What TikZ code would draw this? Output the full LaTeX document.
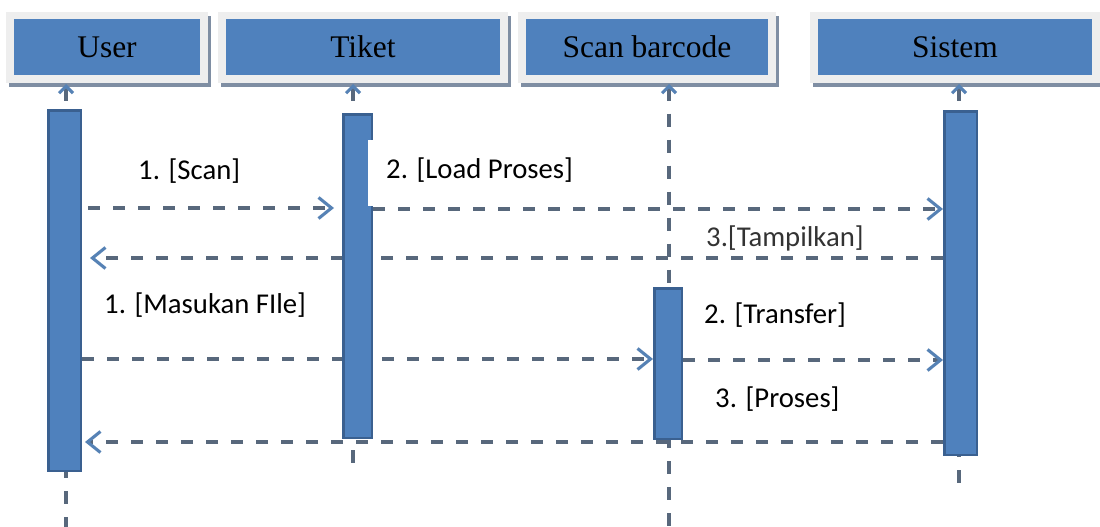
\documentclass[tikz,border=0pt]{standalone}
\usepackage{fontspec}
\setmainfont{Liberation Serif}
\newfontfamily\labelfont{Carlito}
\usetikzlibrary{arrows.meta}

\definecolor{boxblue}{HTML}{4F81BD}
\definecolor{barline}{HTML}{3A6090}
\definecolor{framegray}{HTML}{EEEEEE}
\definecolor{shadowgray}{HTML}{7F8EA3}
\definecolor{dashgray}{HTML}{58687C}
\definecolor{tipblue}{HTML}{5682B5}
\definecolor{tampgray}{HTML}{333333}

\pgfdeclarelayer{bg}
\pgfdeclarelayer{lines}
\pgfsetlayers{bg,lines,main}

\begin{document}
\begin{tikzpicture}[x=1pt,y=-1pt,
  headbox/.style={fill=boxblue, minimum height=56pt, inner sep=0pt,
    font=\fontsize{31.5}{36}\selectfont},
  actbar/.style={fill=boxblue, draw=barline, line width=2.5pt, inner sep=0pt},
  lifeline/.style={draw=dashgray, line width=3.1pt, dash pattern=on 13pt off 13pt},
  lifetop/.style={lifeline, {Straight Barb[length=7pt,width=14pt,color=tipblue]}-},
  msgline/.style={draw=dashgray, line width=3.1pt, dash pattern=on 12pt off 13pt,
    -{Straight Barb[length=13pt,width=21pt,color=tipblue]}},
  msgtext/.style={font=\labelfont\fontsize{28.7}{34}\selectfont, anchor=base west, inner sep=0pt},
]
\useasboundingbox (0,0) rectangle (1100,527);

% participant headers
\node[headbox, minimum width=186pt] (hUser)   at (107,47) {User};
\node[headbox, minimum width=274pt] (hTiket)  at (363,47) {Tiket};
\node[headbox, minimum width=242pt] (hScan)   at (647,47) {Scan barcode};
\node[headbox, minimum width=274pt] (hSistem) at (955,47) {Sistem};

% activation bars
\node[actbar, minimum width=32.5pt, minimum height=360.5pt] (uBar) at (64.5,290.5) {};
\node[actbar, minimum width=28.5pt, minimum height=323.5pt] (tBar) at (357.5,276) {};
\node[actbar, minimum width=27.5pt, minimum height=150.5pt] (sBar) at (668,363.5) {};
\node[actbar, minimum width=32.5pt, minimum height=343.5pt] (yBar) at (960.5,283) {};

% header frames with their shadows, page background
\begin{pgfonlayer}{bg}
  \fill[white] (0,0) rectangle (1100,527);
  \foreach \h in {hUser,hTiket,hScan,hSistem}{
    \fill[shadowgray] ([shift={(-5,-3)}]\h.north west) rectangle ([shift={(11,12)}]\h.south east);
    \fill[framegray] ([shift={(-8,-7)}]\h.north west) rectangle ([shift={(8,8)}]\h.south east);
  }
\end{pgfonlayer}

% lifeline ends
\coordinate (uTop) at (66,84);
\coordinate (tTop) at (353,84);
\coordinate (sTop) at (669,84);
\coordinate (yTop) at (959,84);
\coordinate (uEnd) at (66,527);
\coordinate (tEnd) at (353,470);
\coordinate (sEnd) at (669,527);
\coordinate (yEnd) at (959,483);

% message rows
\coordinate (r1) at (0,208);
\coordinate (r2) at (0,209);
\coordinate (r3) at (0,258);
\coordinate (r4) at (0,359);
\coordinate (r5) at (0,360);
\coordinate (r6) at (0,442);

\begin{pgfonlayer}{lines}
  % lifelines
  \draw[lifetop] (uTop) -- (uTop |- uBar.north);
  \draw[lifetop] (tTop) -- (tTop |- tBar.north);
  \draw[lifetop] (sTop) -- (sTop |- sBar.north);
  \draw[lifetop] (yTop) -- (yTop |- yBar.north);
  \draw[lifeline, dash phase=7pt] (uEnd |- uBar.south) -- (uEnd);
  \draw[lifeline, dash phase=15pt] (tEnd |- tBar.south) -- (tEnd);
  \draw[lifeline, dash phase=5pt] (sEnd |- sBar.south) -- (sEnd);
  \draw[lifeline, dash phase=12pt] (yEnd |- yBar.south) -- (yEnd);

  % messages
  \draw[msgline, shorten <=6pt, shorten >=8pt] (uBar.east |- r1) -- (tBar.west |- r1);
  \draw[msgline] (tBar.east |- r2) -- (yBar.west |- r2);
  \draw[msgline, shorten >=8pt] (yBar.west |- r3) -- (uBar.east |- r3);
  \draw[msgline] (uBar.east |- r4) -- (sBar.west |- r4);
  \draw[msgline] (sBar.east |- r5) -- (yBar.west |- r5);
  \draw[msgline, shorten >=3pt] (yBar.west |- r6) -- (uBar.east |- r6);
\end{pgfonlayer}

% message labels
\node[msgtext] (l1) at (138,179) {1. [Scan]};
\node[msgtext, fill=white, inner xsep=18pt, text height=38pt, text depth=28pt] (l2) at (368,178) {2. [Load Proses]};
\node[msgtext, text=tampgray] (l3) at (706,246) {3.[Tampilkan]};
\node[msgtext] (l4) at (104,313) {1. [Masukan FIle]};
\node[msgtext] (l5) at (704,323) {2. [Transfer]};
\node[msgtext] (l6) at (715,407) {3. [Proses]};
\end{tikzpicture}
\end{document}
